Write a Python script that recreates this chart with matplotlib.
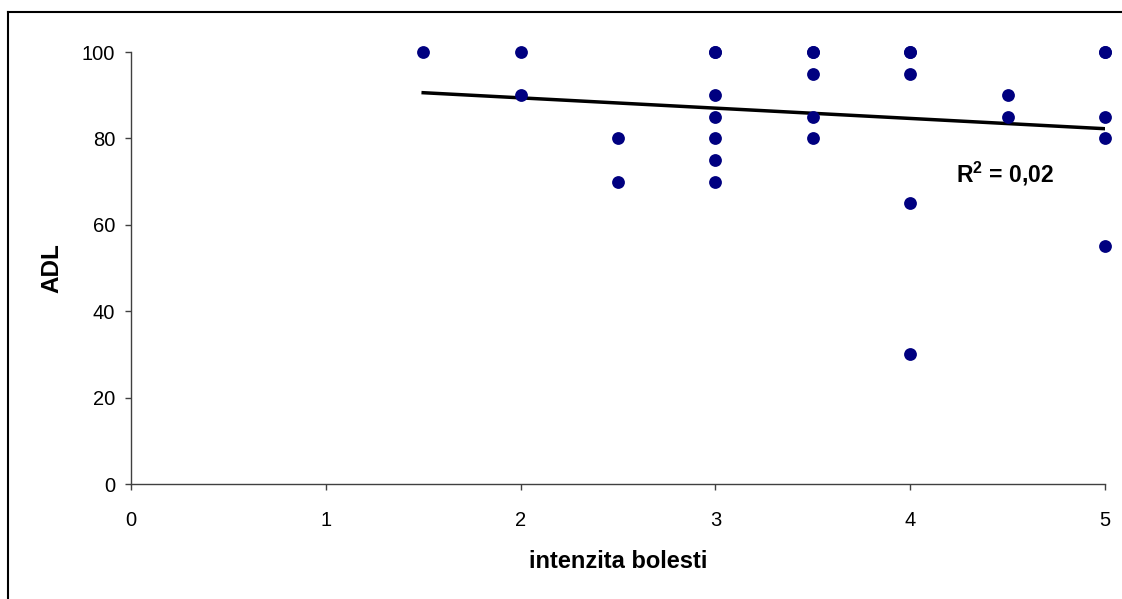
import numpy as np
import matplotlib
matplotlib.use("Agg")
import matplotlib.pyplot as plt
from matplotlib.lines import Line2D

plt.rcParams['font.family'] = ['Liberation Sans', 'DejaVu Sans']
plt.rcParams['mathtext.fontset'] = 'custom'
plt.rcParams['mathtext.rm'] = 'Liberation Sans'
plt.rcParams['mathtext.bf'] = 'Liberation Sans:bold'

# pain intensity vs ADL score (some points overlap at 100)
intenzita = [1.5, 2, 2, 2.5, 2.5,
             3, 3, 3, 3, 3, 3, 3,
             3.5, 3.5, 3.5, 3.5, 3.5,
             4, 4, 4, 4, 4,
             4.5, 4.5,
             5, 5, 5, 5, 5]
adl = [100, 100, 90, 80, 70,
       100, 100, 90, 85, 80, 75, 70,
       100, 100, 95, 85, 80,
       100, 100, 95, 65, 30,
       90, 85,
       100, 100, 85, 80, 55]

x_ticks = [0, 1, 2, 3, 4, 5]
y_ticks = [0, 20, 40, 60, 80, 100]

x = np.array(intenzita)
y = np.array(adl)

fig = plt.figure(figsize=(11.22, 5.99), dpi=100)
ax = fig.add_axes([131/1122, 1 - 484/599, (1105 - 131)/1122, (484 - 52)/599])

ax.scatter(x, y, s=85, color='#000080', zorder=3, clip_on=False, linewidths=0)

# linear trendline
k, q = np.polyfit(x, y, 1)
xs = np.array([x.min(), x.max()])
ax.plot(xs, k * xs + q, color='black', linewidth=2.5, zorder=2)
r2 = np.corrcoef(x, y)[0, 1] ** 2

ax.text(4.235, 71.8, r'R$^{\mathbf{2}}$ = ' + f"{r2:.2f}".replace('.', ','),
        fontsize=16.5, fontweight='bold', ha='left', va='center')

ax.set_xlim(0, 5)
ax.set_ylim(0, 100)
ax.set_xticks(x_ticks)
ax.set_yticks(y_ticks)
for side in ['top', 'right']:
    ax.spines[side].set_visible(False)
for side in ['left', 'bottom']:
    ax.spines[side].set_color('#404040')
    ax.spines[side].set_linewidth(1.0)
ax.tick_params(axis='both', direction='out', length=4.5, width=1.0, color='#404040', labelsize=14.5)
ax.tick_params(axis='x', pad=15)
ax.tick_params(axis='y', pad=7)

ax.set_xlabel('intenzita bolesti', fontsize=17, fontweight='bold')
ax.set_ylabel('ADL', fontsize=17.5, fontweight='bold')
ax.xaxis.set_label_coords(0.5, -(561 - 484) / (484 - 52), transform=ax.transAxes)
ax.yaxis.set_label_coords(-(131 - 52) / (1105 - 131), 0.5, transform=ax.transAxes)
ax.xaxis.label.set_va('center')
ax.yaxis.label.set_va('center')

# chart area border (left and top edges visible)
fig.add_artist(Line2D([8/1122, 8/1122], [0, 1 - 12/599], transform=fig.transFigure, color='black', linewidth=1.5))
fig.add_artist(Line2D([8/1122, 1], [1 - 12/599, 1 - 12/599], transform=fig.transFigure, color='black', linewidth=1.5))

fig.savefig("out.png", dpi=100)
plt.close()
